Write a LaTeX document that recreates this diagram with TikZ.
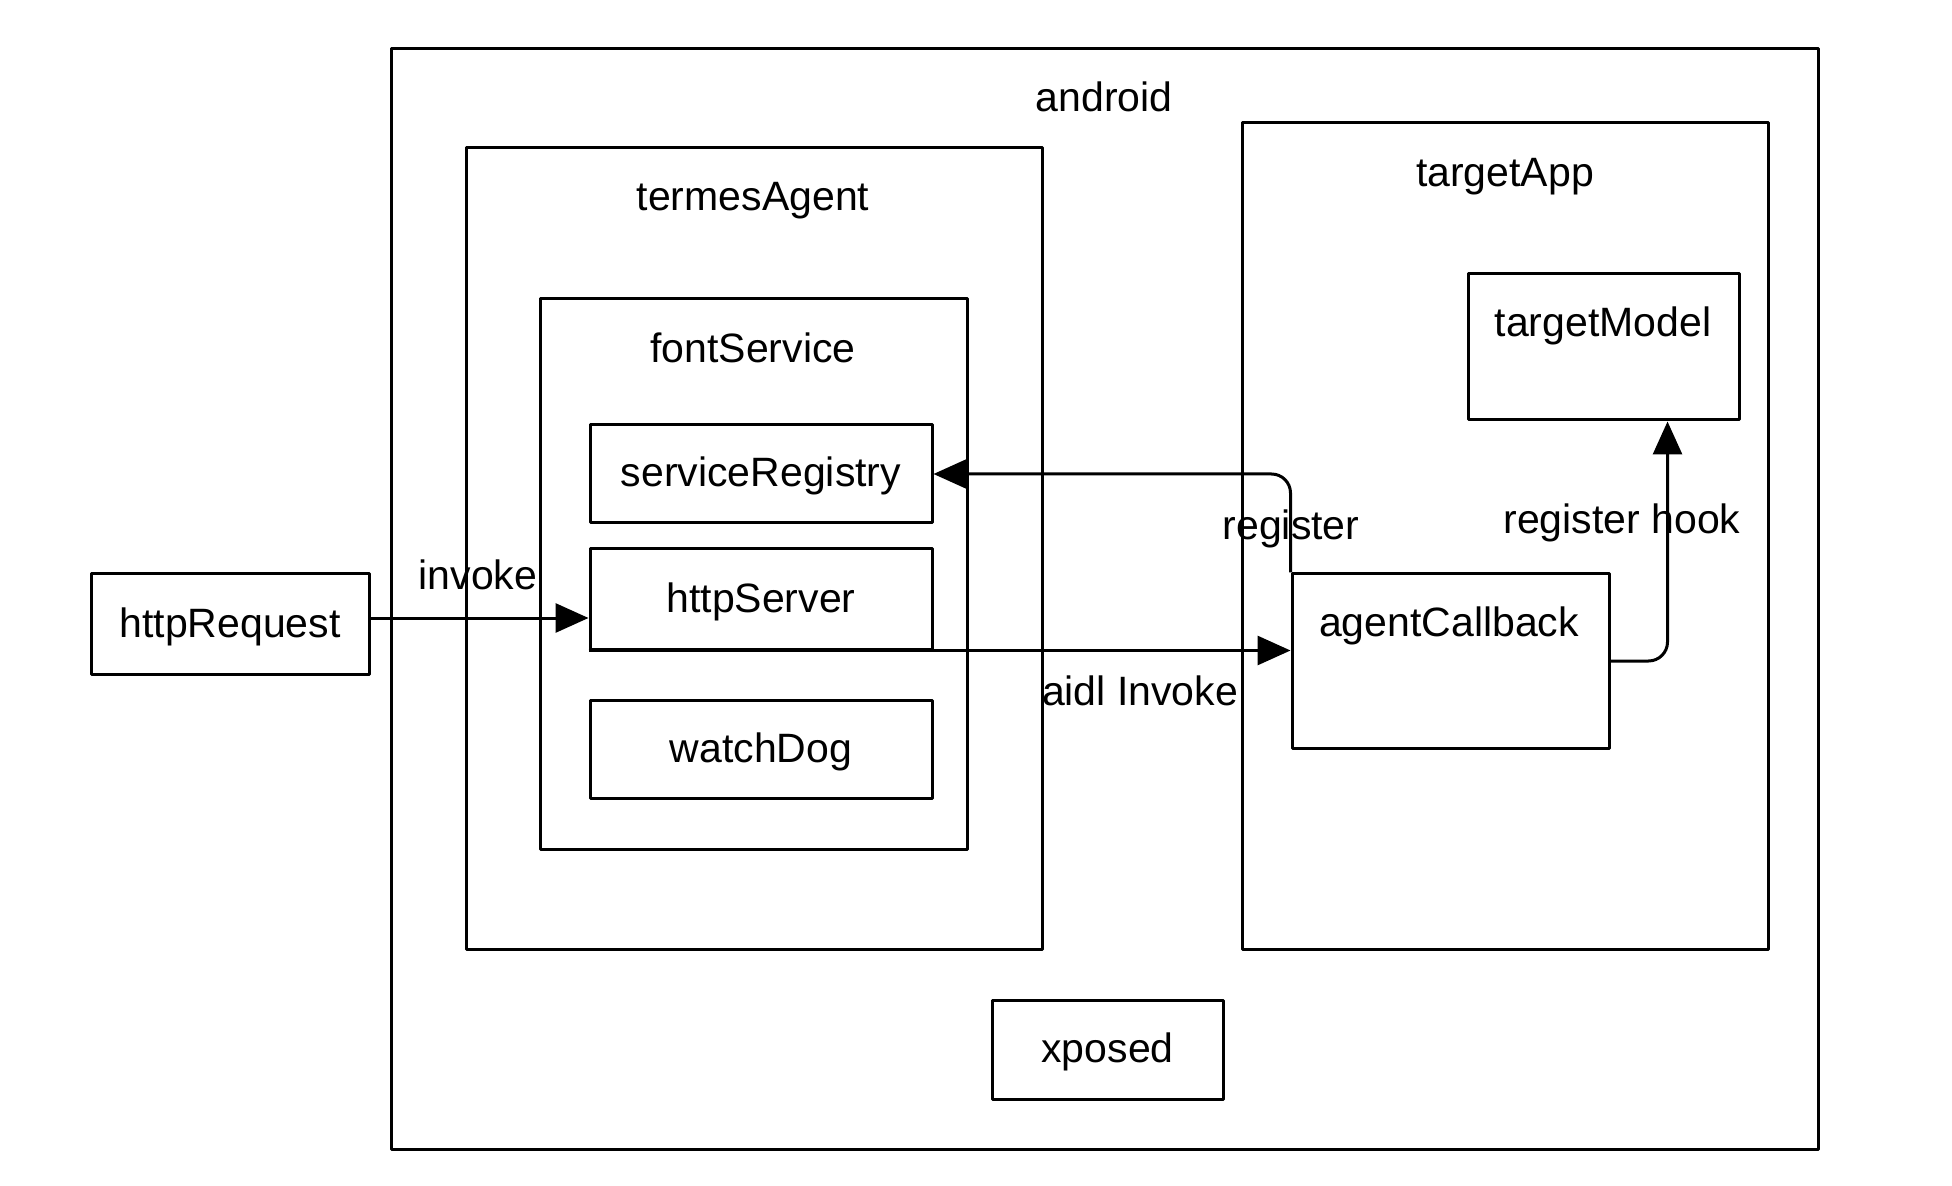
\documentclass[tikz,border=0pt]{standalone}
\usepackage{fontspec}
\setmainfont{Liberation Sans}
\usetikzlibrary{arrows.meta}
\begin{document}
\begin{tikzpicture}[x=0.5pt, y=-0.5pt, font=\fontsize{20.5}{24}\selectfont, line join=round, line width=1.5pt, >={Triangle[length=16.5pt,width=14.5pt]},
	box/.style={draw, inner sep=0pt, text height=17.5pt, text depth=4.5pt},
	txt/.style={inner sep=1pt}]
	\useasboundingbox (0,0) rectangle (1952,1186);
	% containers
	\node[box, minimum width=713.5pt, minimum height=550pt] (android) at (1104.5,599) {};
	\node[box, minimum width=288pt, minimum height=400.5pt] (termesAgent) at (754,548.5) {};
	\node[box, minimum width=213.5pt, minimum height=275pt] (fontService) at (753.5,574) {};
	\node[box, minimum width=263pt, minimum height=413pt] (targetApp) at (1505,536) {};
	\node[txt] (androidLbl) at (1104,97) {android};
	\node[txt] (termesLbl) at (753,201) {termesAgent};
	\node[txt] (fontLbl) at (753,348) {fontService};
	\node[txt] (targetAppLbl) at (1505,177) {targetApp};
	% boxes
	\node[box, minimum width=171pt, minimum height=49pt] (serviceRegistry) at (761,474) {serviceRegistry};
	\node[box, minimum width=171pt, minimum height=50pt] (httpServer) at (761,599) {httpServer};
	\node[box, minimum width=171pt, minimum height=49pt] (watchDog) at (761,749) {watchDog};
	\node[box, minimum width=139pt, minimum height=50pt] (httpRequest) at (230,624) {httpRequest};
	\node[box, minimum width=115.5pt, minimum height=49.5pt] (xposed) at (1107.5,1049.5) {xposed};
	\node[box, minimum width=135.5pt, minimum height=73pt] (targetModel) at (1603.5,347) {};
	\node[txt] (targetModelLbl) at (1603,326) {targetModel};
	\node[box, minimum width=158.5pt, minimum height=87pt] (agentCallback) at (1450.5,661) {};
	\node[txt] (agentCallbackLbl) at (1449,626) {agentCallback};
	\coordinate (hook) at ([xshift=32pt]targetModel.south);
	% connectors
	\draw[->] ([yshift=3pt]httpRequest.east) -- ([yshift=3pt]httpRequest.east -| httpServer.west);
	\draw[->] (httpServer.south west) -- (httpServer.south west -| agentCallback.west);
	\draw[->, rounded corners=9.5pt] (agentCallback.north west) |- (serviceRegistry.east);
	\draw[->, rounded corners=9.5pt] (agentCallback.east) -| (hook);
	% labels
	\node[txt] (invokeLbl) at (478,575) {invoke};
	\node[txt] (aidlLbl) at (1140,691) {aidl Invoke};
	\node[txt] (registerLbl) at (1291,529) {register};
	\node[txt] (hookLbl) at (1622,523) {register hook};
\end{tikzpicture}
\end{document}
